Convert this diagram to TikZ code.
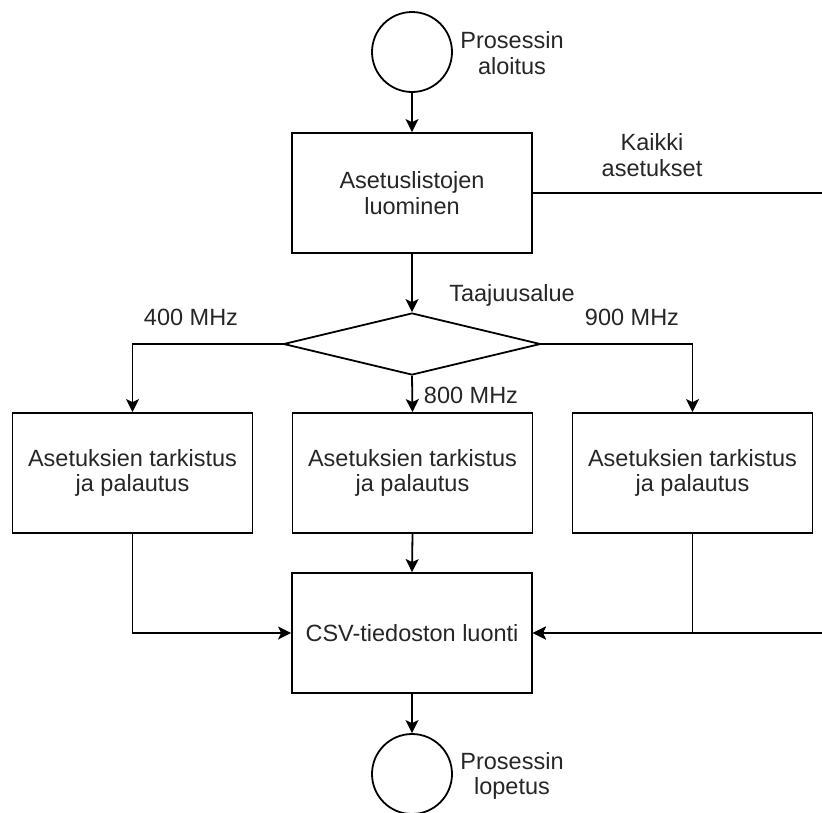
\documentclass[tikz,border=0pt]{standalone}
\usepackage{fontspec}
\setmainfont{Liberation Sans}
\usetikzlibrary{arrows.meta,shapes.geometric}

\begin{document}
\begin{tikzpicture}[x=1pt, y=-1pt, line width=1.8pt,
every node/.style={font=\fontsize{23.5}{25.5}\selectfont, text=black!85},
terminal/.style={circle, draw, minimum size=80pt, inner sep=0pt},
process/.style={rectangle, draw, minimum width=240pt, minimum height=120pt, align=center, inner sep=0pt},
decision/.style={diamond, draw, minimum width=257pt, minimum height=62pt, inner sep=0pt},
lbl/.style={align=center, inner sep=0pt},
flow/.style={-{Stealth[length=13pt, width=13pt, inset=3pt]}}]

\useasboundingbox (0,0) rectangle (822,812);

\node[terminal] (start) at (412,52) {};
\node[lbl] (startlbl) at (512,53) {Prosessin\\aloitus};
\node[process] (lists) at (412,193) {Asetuslistojen\\luominen};
\node[lbl] (alllbl) at (652,155) {Kaikki\\asetukset};
\node[decision] (band) at (412,344) {};
\node[lbl] (bandlbl) at (512,295) {Taajuusalue};
\node[lbl] (l400) at (191,317) {400 MHz};
\node[lbl] (l900) at (632,317) {900 MHz};
\node[lbl] (l800) at (471,395) {800 MHz};
\node[process] (check1) at (132.5,473) {Asetuksien tarkistus\\ja palautus};
\node[process] (check2) at (412.5,473) {Asetuksien tarkistus\\ja palautus};
\node[process] (check3) at (692.5,473) {Asetuksien tarkistus\\ja palautus};
\node[process] (csv) at (412,633) {CSV-tiedoston luonti};
\node[terminal] (stop) at (412,774) {};
\node[lbl] (stoplbl) at (512,776) {Prosessin\\lopetus};
\coordinate (outtop) at (822,193);
\coordinate (outbot) at (822,633);

\draw[flow] (start) -- (lists);
\draw (lists.east) -- (outtop);
\draw[flow] (lists) -- (band);
\draw[flow] (band.west) -| (check1.north);
\draw[flow] (band.east) -| (check3.north);
\draw[flow] (band.south) -- (check2.north);
\draw[flow] (check1.south) |- (csv.west);
\draw[flow] (check2.south) -- (csv.north);
\draw[flow] (check3.south) |- (csv.east);
\draw[flow] (outbot) -- (csv.east);
\draw[flow] (csv) -- (stop);

\end{tikzpicture}
\end{document}
